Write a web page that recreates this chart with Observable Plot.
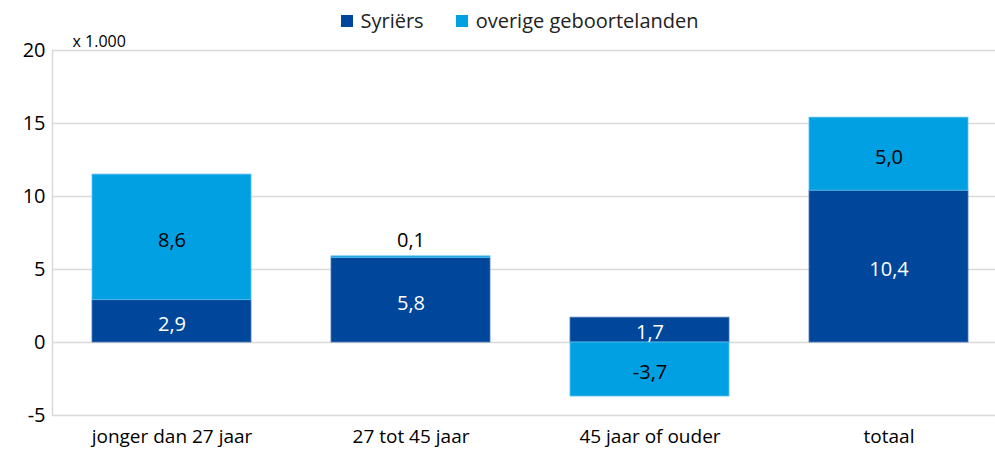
<!DOCTYPE html>
<html><head><meta charset="utf-8">
<script src="https://cdn.jsdelivr.net/npm/d3@7"></script>
<script src="https://cdn.jsdelivr.net/npm/@observablehq/plot@0.6"></script>
<style>
body{margin:0;background:#fff;font-family:"Open Sans",sans-serif;}
#legend{height:30px;box-sizing:border-box;padding-top:8px;display:flex;justify-content:center;align-items:flex-start;font-size:20px;line-height:26px;color:#222;padding-left:44px;}
#legend span{display:inline-flex;align-items:center;margin:0 16px;}
#legend i{display:inline-block;width:12px;height:12px;margin-right:8px;}
#chart svg{display:block;}
</style></head><body>
<div id="legend"></div>
<div id="chart"></div>
<script>
const categories = ["jonger dan 27 jaar", "27 tot 45 jaar", "45 jaar of ouder", "totaal"];
const seriesNames = ["Syriërs", "overige geboortelanden"];
const syriers = [2.9, 5.8, 1.7, 10.4];
const overige = [8.6, 0.1, -3.7, 5.0];
const yTicks = [-5, 0, 5, 10, 15, 20];
const colors = ["#00479b", "#00a0e3"];

const fmt = v => v.toFixed(1).replace(".", ",");
const rows = [];
categories.forEach((c, i) => {
  const s = syriers[i], o = overige[i];
  rows.push({cat: c, series: seriesNames[0], value: s, y1: 0, y2: s});
  if (o >= 0) rows.push({cat: c, series: seriesNames[1], value: o, y1: s, y2: s + o});
  else rows.push({cat: c, series: seriesNames[1], value: o, y1: 0, y2: o});
});
const inside = rows.filter(d => Math.abs(d.value) >= 0.5);
const above = rows.filter(d => Math.abs(d.value) < 0.5);

document.getElementById("legend").innerHTML = seriesNames.map((n, i) =>
  `<span><i style="background:${colors[i]}"></i>${n}</span>`).join("");

const chart = Plot.plot({
  width: 995, height: 420,
  marginLeft: 52, marginRight: 0, marginTop: 20, marginBottom: 35,
  style: {fontFamily: "Open Sans, sans-serif", fontSize: "19px", color: "#000", background: "#fff"},
  x: {type: "band", domain: categories, range: [52, 1008], paddingInner: 0.335, paddingOuter: 0.1675, label: null},
  y: {domain: [-5, 20], label: null},
  color: {domain: seriesNames, range: colors},
  marks: [
    Plot.gridY(yTicks, {stroke: "#d9d9d9", strokeOpacity: 1, strokeWidth: 1.5}),
    Plot.frame({anchor: "left", stroke: "#d9d9d9", strokeWidth: 1.5}),
    Plot.rectY(rows, {x: "cat", y1: "y1", y2: "y2", fill: "series", stroke: d => d.series === seriesNames[0] ? "#4a78b8" : "#5cc0ee", strokeWidth: 0.8}),
    Plot.text(inside, {x: "cat", y: d => (d.y1 + d.y2) / 2, text: d => fmt(d.value), dy: 3, fontSize: 20, fill: d => d.series === seriesNames[0] ? "#fff" : "#000"}),
    Plot.text(above, {x: "cat", y: "y2", text: d => fmt(d.value), dy: -16, fontSize: 20, fill: "#000"}),
    Plot.axisY(yTicks, {tickSize: 0, tickPadding: 7, fontSize: 20, tickFormat: d => String(d)}),
    Plot.axisX({tickSize: 0, tickPadding: 14, fontSize: 19}),
    Plot.text(["x 1.000"], {frameAnchor: "top-left", dx: 20, dy: -15, fontSize: 16, textAnchor: "start", fill: "#000"})
  ]
});
document.getElementById("chart").appendChild(chart);
</script></body></html>
